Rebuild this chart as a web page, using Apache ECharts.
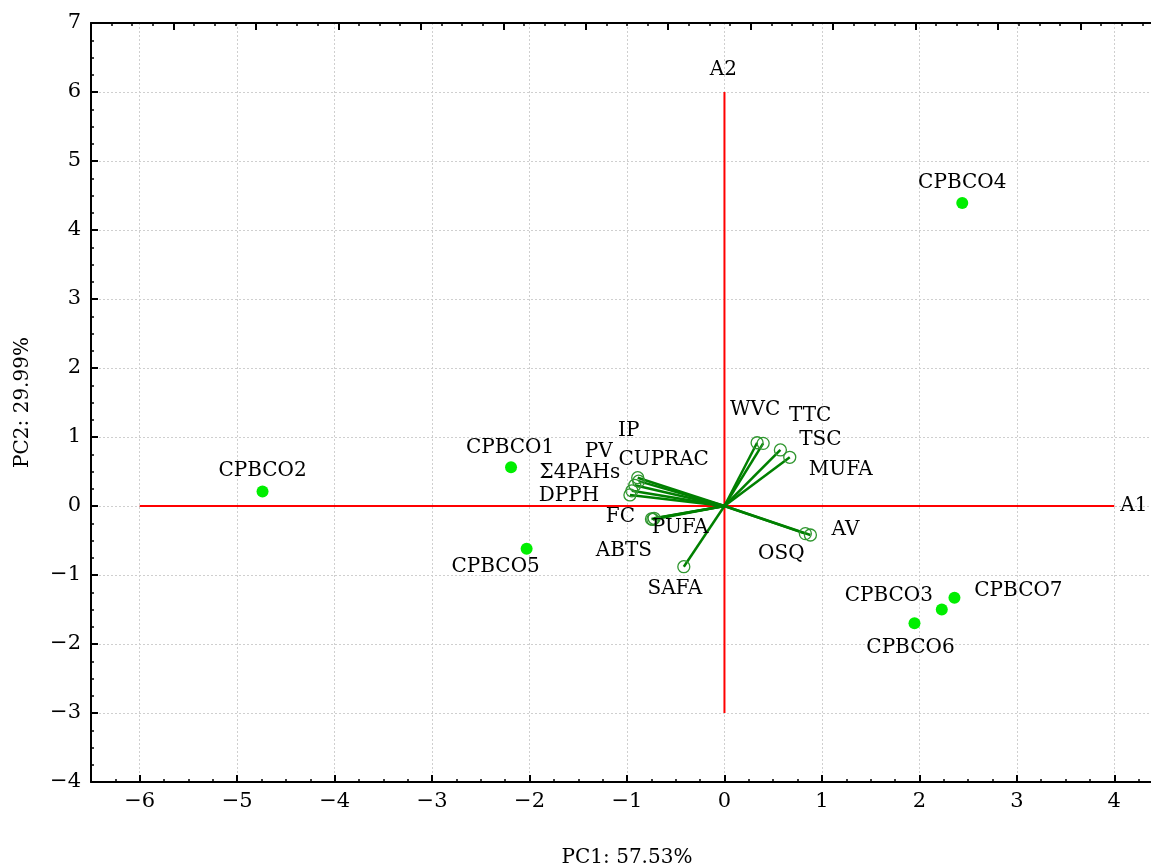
<!DOCTYPE html>
<html><head><meta charset="utf-8">
<script src="https://cdn.jsdelivr.net/npm/echarts@6/dist/echarts.min.js"></script>
<style>html,body{margin:0;padding:0;background:#fff}#c{width:1151px;height:868px}</style>
</head><body><div id="c"></div>
<script>
// ---- data ----
const sampleNames = ['CPBCO1','CPBCO2','CPBCO3','CPBCO4','CPBCO5','CPBCO6','CPBCO7'];
const samplePC1 = [-2.19, -4.74, 2.23, 2.44, -2.03, 1.95, 2.36];
const samplePC2 = [0.56, 0.21, -1.50, 4.39, -0.62, -1.70, -1.33];
const varNames = ['WVC','TTC','TSC','MUFA','AV','OSQ','SAFA','ABTS','PUFA','FC','DPPH','Σ4PAHs','PV','IP','CUPRAC'];
const varPC1 = [0.335, 0.397, 0.574, 0.670, 0.882, 0.830, -0.417, -0.735, -0.722, -0.749, -0.97, -0.95, -0.92, -0.89, -0.88];
const varPC2 = [0.917, 0.908, 0.812, 0.706, -0.420, -0.400, -0.880, -0.195, -0.178, -0.188, 0.16, 0.22, 0.30, 0.41, 0.36];
const xTickValues = [-6,-5,-4,-3,-2,-1,0,1,2,3,4];
const yTickValues = [-4,-3,-2,-1,0,1,2,3,4,5,6,7];
const axisA1 = [[-6,0],[4,0]];
const axisA2 = [[0,-3],[0,6]];
const xTitle = 'PC1: 57.53%';
const yTitle = 'PC2: 29.99%';

// ---- style (label offsets in px) ----
const sampleLabelOffset = {
  CPBCO1:[-1,-20], CPBCO2:[0,-21], CPBCO3:[-53,-14], CPBCO4:[0,-20],
  CPBCO5:[-31,18], CPBCO6:[-4,24], CPBCO7:[64,-7]
};
const varLabelOffset = {
  WVC:[-2,-33], TTC:[47,-28], TSC:[40,-10], MUFA:[51,13], AV:[35,-5], OSQ:[-24,20],
  SAFA:[-9,22], ABTS:[-29,31], PUFA:[26,10], FC:[-31,-2], DPPH:[-61,1],
  'Σ4PAHs':[-52,-18], PV:[-36,-34], IP:[-9,-47], CUPRAC:[25,-21]
};
const FONT = 'DejaVu Serif';
const FS = 20;
const fmt = v => (v < 0 ? '\u2212' + (-v) : String(v));
const labelBase = {show:true, position:'inside', color:'#000', fontFamily:FONT, fontSize:FS, textBorderWidth:0, textBorderColor:'transparent', textShadowBlur:0};

const series = [];
series.push({
  type:'line', xAxisIndex:0, yAxisIndex:0, data:axisA1, symbol:'none', silent:true, z:2,
  lineStyle:{color:'#ff0000', width:2},
  endLabel:{show:true, formatter:'A1', color:'#000', fontFamily:FONT, fontSize:FS, distance:6}
});
series.push({
  type:'line', xAxisIndex:0, yAxisIndex:0, data:axisA2, symbol:'none', silent:true, z:2,
  lineStyle:{color:'#ff0000', width:2}
});
series.push({
  type:'scatter', xAxisIndex:0, yAxisIndex:0, silent:true, z:2, symbolSize:1,
  itemStyle:{color:'rgba(0,0,0,0)', opacity:1},
  data:[{value:axisA2[1], label:Object.assign({}, labelBase, {formatter:'A2', offset:[-1,-22]})}]
});
varNames.forEach((n,i) => {
  series.push({
    type:'line', xAxisIndex:0, yAxisIndex:0, silent:true, z:3,
    lineStyle:{color:'#008000', width:2.5},
    showAllSymbol:true,
    data:[
      {value:[0,0], symbol:'none'},
      {value:[varPC1[i], varPC2[i]], symbol:'circle', symbolSize:12,
       itemStyle:{color:'rgba(0,0,0,0)', borderColor:'#2f962f', borderWidth:1.3, opacity:1},
       label:Object.assign({}, labelBase, {formatter:n, offset:varLabelOffset[n]})}
    ]
  });
});
series.push({
  type:'scatter', xAxisIndex:0, yAxisIndex:0, z:5, symbolSize:12,
  itemStyle:{color:'#00ee00', opacity:1},
  data: sampleNames.map((n,i) => ({
    value:[samplePC1[i], samplePC2[i]],
    label:Object.assign({}, labelBase, {formatter:n, offset:sampleLabelOffset[n]})
  }))
});

const chart = echarts.init(document.getElementById('c'), null, {renderer:'canvas'});
chart.setOption({
  animation:false,
  backgroundColor:'#fff',
  textStyle:{fontFamily:FONT},
  grid:{left:91, top:23, width:1072, height:759, containLabel:false, outerBoundsMode:'none'},
  xAxis:[
    { // data axis with minor ticks every 0.25
      type:'value', position:'bottom', min:-6.5, max:4.5, interval:0.25,
      name:xTitle, nameLocation:'middle', nameGap:66,
      nameTextStyle:{color:'#000', fontFamily:FONT, fontSize:FS},
      axisLine:{show:true, onZero:false, lineStyle:{color:'#000', width:2}},
      axisTick:{show:true, inside:true, length:3, lineStyle:{color:'#000', width:1.5}},
      axisLabel:{show:true, customValues:xTickValues, formatter:v=>fmt(v), color:'#000', fontFamily:FONT, fontSize:21, margin:9},
      splitLine:{show:true, lineStyle:{type:[2,2], width:1, color:['rgba(0,0,0,0)','rgba(0,0,0,0)','#cfcfcf','rgba(0,0,0,0)']}}
    },
    { // major ticks
      type:'value', position:'bottom', min:-6.5, max:4.5, interval:0.25,
      axisLine:{show:false, onZero:false},
      axisTick:{show:true, inside:true, length:7, customValues:xTickValues, lineStyle:{color:'#000', width:2}},
      axisLabel:{show:false}, splitLine:{show:false}
    },
    { // top frame axis
      type:'value', position:'top', min:0, max:13, interval:1,
      axisLine:{show:true, onZero:false, lineStyle:{color:'#000', width:2}},
      axisTick:{show:true, inside:true, length:7, lineStyle:{color:'#000', width:2}},
      minorTick:{show:true, splitNumber:4, length:3, lineStyle:{color:'#000', width:1.5}},
      axisLabel:{show:false}, splitLine:{show:false}
    }
  ],
  yAxis:[{
    type:'value', position:'left', min:-4, max:7, interval:1,
    name:yTitle, nameLocation:'middle', nameGap:58, nameRotate:90,
    nameTextStyle:{color:'#000', fontFamily:FONT, fontSize:FS},
    axisLine:{show:true, onZero:false, lineStyle:{color:'#000', width:2}},
    axisTick:{show:true, inside:true, length:7, lineStyle:{color:'#000', width:2}},
    minorTick:{show:true, splitNumber:4, length:3, lineStyle:{color:'#000', width:1.5}},
    axisLabel:{show:true, customValues:yTickValues, formatter:v=>fmt(v), color:'#000', fontFamily:FONT, fontSize:21, margin:10},
    splitLine:{show:true, lineStyle:{type:[2,2], width:1, color:'#cfcfcf'}}
  }],
  series
});
</script></body></html>
